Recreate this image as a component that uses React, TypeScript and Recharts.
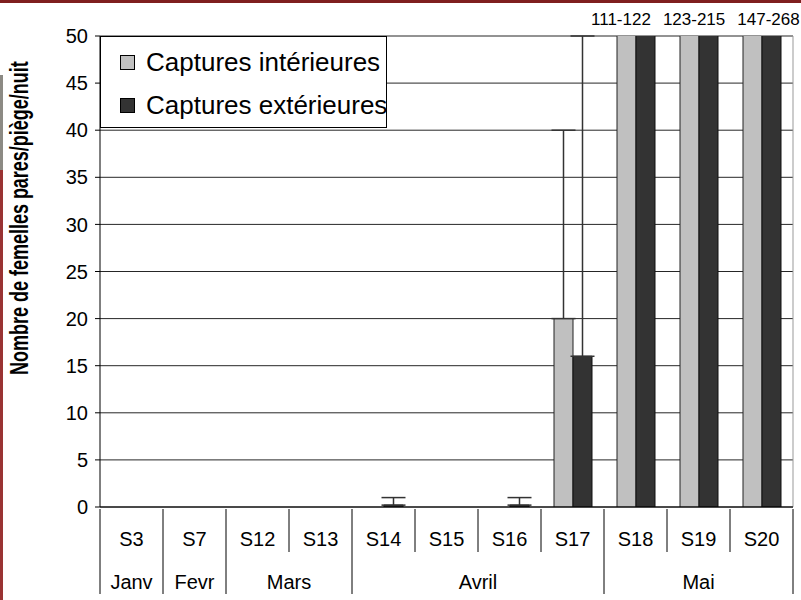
import React from 'react';
import { BarChart, Bar, XAxis, YAxis, CartesianGrid, Legend, ErrorBar } from 'recharts';

// weekly catches, clipped at 50 on the axis
const weeks = ['S3', 'S7', 'S12', 'S13', 'S14', 'S15', 'S16', 'S17', 'S18', 'S19', 'S20'];
const months = ['Janv', 'Fevr', 'Mars', 'Mars', 'Avril', 'Avril', 'Avril', 'Avril', 'Mai', 'Mai', 'Mai'];
const interieures = [0, 0, 0, 0, 0, 0, 0, 20, 111, 123, 147];
const exterieures = [0, 0, 0, 0, 0.2, 0, 0.2, 16, 122, 215, 268];
// upper error extent (null = no error bar)
const errInterieures = [null, null, null, null, null, null, null, 20, null, null, null];
const errExterieures = [null, null, null, null, 0.8, null, 0.8, 34, null, null, null];
const yTicks = [0, 5, 10, 15, 20, 25, 30, 35, 40, 45, 50];
const Y_MAX = 50;

const FONT = 'Arial, "Liberation Sans", sans-serif';
const W = 801;
const H = 600;
const MARGIN = { top: 0, right: 8, bottom: 0, left: 40 };
const Y_AXIS_W = 60;
const PLOT_W = W - MARGIN.left - MARGIN.right - Y_AXIS_W;
const BAND = PLOT_W / weeks.length;

const data = weeks.map((w, i) => ({
  week: w,
  month: months[i],
  interieures: interieures[i],
  exterieures: exterieures[i],
  errIn: errInterieures[i] == null ? null : [0, errInterieures[i]],
  errOut: errExterieures[i] == null ? null : [0, errExterieures[i]],
}));

const isMonthStart = (i: number) => i === 0 || months[i] !== months[i - 1];
const overRange = weeks.map((_, i) => interieures[i] > Y_MAX || exterieures[i] > Y_MAX);
const firstOver = overRange.indexOf(true);

const WeekTick = (props: any) => {
  const { x, y, index } = props;
  const left = x - BAND / 2;
  const parts: React.ReactNode[] = [];
  parts.push(
    <line key="sep" x1={left} x2={left} y1={y} y2={y + (isMonthStart(index) ? 85 : 43)} stroke="#000" strokeWidth={1} />
  );
  if (index === weeks.length - 1) {
    parts.push(<line key="end" x1={x + BAND / 2} x2={x + BAND / 2} y1={y} y2={y + 85} stroke="#000" strokeWidth={1} />);
  }
  parts.push(
    <text key="w" x={x} y={y + 37} textAnchor="middle" fontFamily={FONT} fontSize={20} fill="#000">
      {weeks[index]}
    </text>
  );
  if (isMonthStart(index)) {
    let n = 1;
    while (index + n < months.length && months[index + n] === months[index]) n++;
    parts.push(
      <text key="m" x={left + (n * BAND) / 2} y={y + 80} textAnchor="middle" fontFamily={FONT} fontSize={20} fill="#000">
        {months[index]}
      </text>
    );
  }
  return <g>{parts}</g>;
};

// values above the axis maximum are written on one line above the plot
const RangeTick = (props: any) => {
  const { x, y, index } = props;
  if (index !== firstOver) return null;
  const labels = weeks
    .map((_, i) => (overRange[i] ? `${interieures[i]}-${exterieures[i]}` : null))
    .filter((s) => s != null);
  return (
    <text x={x - BAND / 2 - 13} y={y} textAnchor="start" fontFamily={FONT} fontSize={17} fill="#000">
      {labels.map((s, k) => (
        <tspan key={k} dx={k === 0 ? 0 : 12}>
          {s}
        </tspan>
      ))}
    </text>
  );
};

const LegendBox = () => (
  <div
    style={{
      width: 287,
      height: 92,
      boxSizing: 'border-box',
      border: '1px solid #000',
      background: '#fff',
      fontFamily: FONT,
      fontSize: 26,
      color: '#000',
      paddingLeft: 19,
      paddingTop: 4,
      whiteSpace: 'nowrap',
    }}
  >
    {[
      { name: 'Captures intérieures', color: '#c0c0c0' },
      { name: 'Captures extérieures', color: '#333333' },
    ].map((item) => (
      <div key={item.name} style={{ display: 'flex', alignItems: 'center', height: 43 }}>
        <span
          style={{
            display: 'inline-block',
            flex: 'none',
            width: 13,
            height: 13,
            background: item.color,
            border: '1px solid #000',
            marginRight: 11,
          }}
        />
        {item.name}
      </div>
    ))}
  </div>
);

export default function App() {
  return (
    <div style={{ position: 'absolute', left: 0, top: 0, width: W, height: H, background: '#fff', overflow: 'hidden' }}>
      <div style={{ position: 'absolute', left: 0, top: 0, width: W, height: 3, background: '#7f1f1f' }} />
      <div style={{ position: 'absolute', left: 0, top: 75, width: 3, height: 95, background: '#8c8a84' }} />
      <div style={{ position: 'absolute', left: 0, top: 170, width: 3, height: 430, background: '#993333' }} />
      <BarChart width={W} height={H} data={data} margin={MARGIN} barGap={0} barSize={19}>
        <CartesianGrid vertical={false} stroke="#000" strokeOpacity={0.85} />
        <CartesianGrid
          horizontal={false}
          stroke="#999"
          verticalCoordinatesGenerator={({ offset }: any) => [offset.left + offset.width]}
        />
        <XAxis
          dataKey="week"
          interval={0}
          height={93}
          tickSize={0}
          tickLine={false}
          axisLine={{ stroke: '#000' }}
          tick={<WeekTick />}
        />
        <XAxis
          xAxisId="top"
          orientation="top"
          dataKey="week"
          interval={0}
          height={36}
          tickSize={0}
          tickMargin={11}
          tickLine={false}
          axisLine={false}
          tick={<RangeTick />}
        />
        <YAxis
          width={Y_AXIS_W}
          domain={[0, Y_MAX]}
          ticks={yTicks}
          allowDataOverflow
          interval={0}
          tickSize={5}
          tickMargin={7}
          axisLine={{ stroke: '#000' }}
          tickLine={{ stroke: '#000' }}
          tick={{ fill: '#000', fontSize: 20, fontFamily: FONT }}
          label={{
            content: () => (
              <text
                transform="translate(28 375) rotate(-90) scale(1 1.4)"
                textAnchor="start"
                fontFamily={FONT}
                fontWeight="bold"
                fontSize={18}
                fill="#000"
              >
                Nombre de femelles pares/piège/nuit
              </text>
            ),
          }}
        />
        <Legend
          layout="vertical"
          align="center"
          verticalAlign="middle"
          wrapperStyle={{ left: 100, top: 36, width: 287, height: 92 }}
          content={<LegendBox />}
        />
        <Bar dataKey="interieures" name="Captures intérieures" fill="#c0c0c0" stroke="#222" strokeWidth={1} isAnimationActive={false}>
          <ErrorBar dataKey="errIn" width={12} stroke="#333" strokeWidth={1.5} direction="y" />
        </Bar>
        <Bar dataKey="exterieures" name="Captures extérieures" fill="#333333" stroke="#111" strokeWidth={1} isAnimationActive={false}>
          <ErrorBar dataKey="errOut" width={12} stroke="#333" strokeWidth={1.5} direction="y" />
        </Bar>
      </BarChart>
    </div>
  );
}
